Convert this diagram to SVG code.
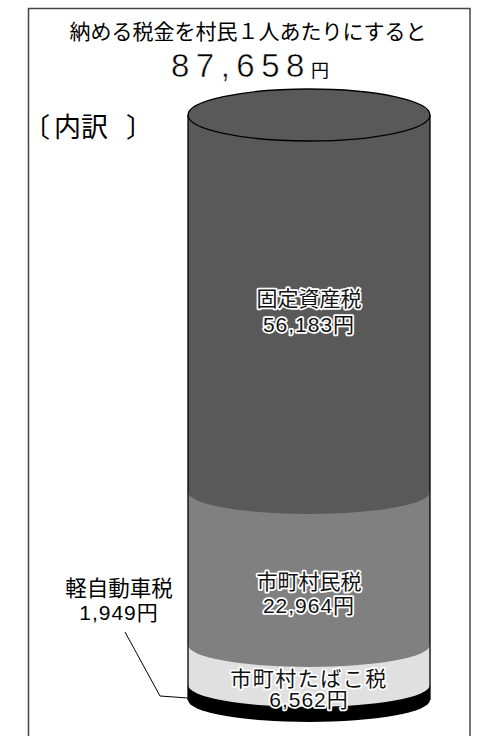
<svg xmlns="http://www.w3.org/2000/svg" width="504" height="736" viewBox="0 0 504 736">
<style>
.t{font-family:"Liberation Sans","Noto Sans CJK JP",sans-serif;fill:#000}
.lbl{font-family:"Liberation Sans","Noto Sans CJK JP",sans-serif;font-size:21px;text-anchor:middle;fill:#111;stroke:#fff;stroke-width:3.5px;stroke-linejoin:round;paint-order:stroke}
.seg{stroke:none}
</style>
<rect width="504" height="736" fill="#fff"/>
<rect x="28.5" y="8.5" width="441.5" height="740" fill="none" stroke="#444" stroke-width="1.5"/>
<g id="title">
<text class="t" x="248" y="39" font-size="21" text-anchor="middle">納める税金を村民１人あたりにすると</text>
<text class="t" x="171" y="77" font-size="33" letter-spacing="6.5" stroke="#fff" stroke-width="0.5" paint-order="fill">87,658<tspan font-size="18" letter-spacing="0" stroke="none">円</tspan></text>
</g>
<g id="breakdown-label">
<text class="t" font-size="27" y="137"><tspan x="23">〔</tspan><tspan x="54">内訳</tspan><tspan x="126">〕</tspan></text>
</g>
<g id="cylinder">
<path class="seg" fill="#000" d="M188,685 L188,700 A121,22 0 0 0 430,700 L430,685 Z"/>
<path class="seg" fill="#e0e0e0" d="M188,645 L188,685 A121,22 0 0 0 430,685 L430,645 Z"/>
<path class="seg" fill="#808080" d="M188,492 L188,645 A121,22 0 0 0 430,645 L430,492 Z"/>
<path class="seg" fill="#595959" d="M188,115 L188,492 A121,22 0 0 0 430,492 L430,115 Z"/>
<path fill="none" stroke="#000" stroke-width="1.3" d="M188,115 L188,700 M430,115 L430,700"/>
<ellipse cx="309" cy="115" rx="121" ry="26" fill="#595959" stroke="#000" stroke-width="1.3"/>
</g>
<g id="node-kotei">
<text class="lbl" x="309" y="306">固定資産税</text>
<text class="lbl" x="309" y="332" letter-spacing="1">56,183円</text>
</g>
<g id="node-shiminzei">
<text class="lbl" x="309" y="589">市町村民税</text>
<text class="lbl" x="309" y="613" letter-spacing="1">22,964円</text>
</g>
<g id="node-tabako">
<text class="lbl" x="309" y="686" font-size="19" letter-spacing="1.5">市町村たばこ税</text>
<text class="lbl" x="309" y="707" font-size="19" letter-spacing="1">6,562円</text>
</g>
<g id="node-keijidosha">
<text class="t" x="119" y="596" font-size="21.5" text-anchor="middle">軽自動車税</text>
<text class="t" x="119" y="620" font-size="21" text-anchor="middle" letter-spacing="1">1,949円</text>
</g>
<g id="connectors">
<polyline points="125,632 160,696 188,698" fill="none" stroke="#000" stroke-width="1"/>
</g>
</svg>
